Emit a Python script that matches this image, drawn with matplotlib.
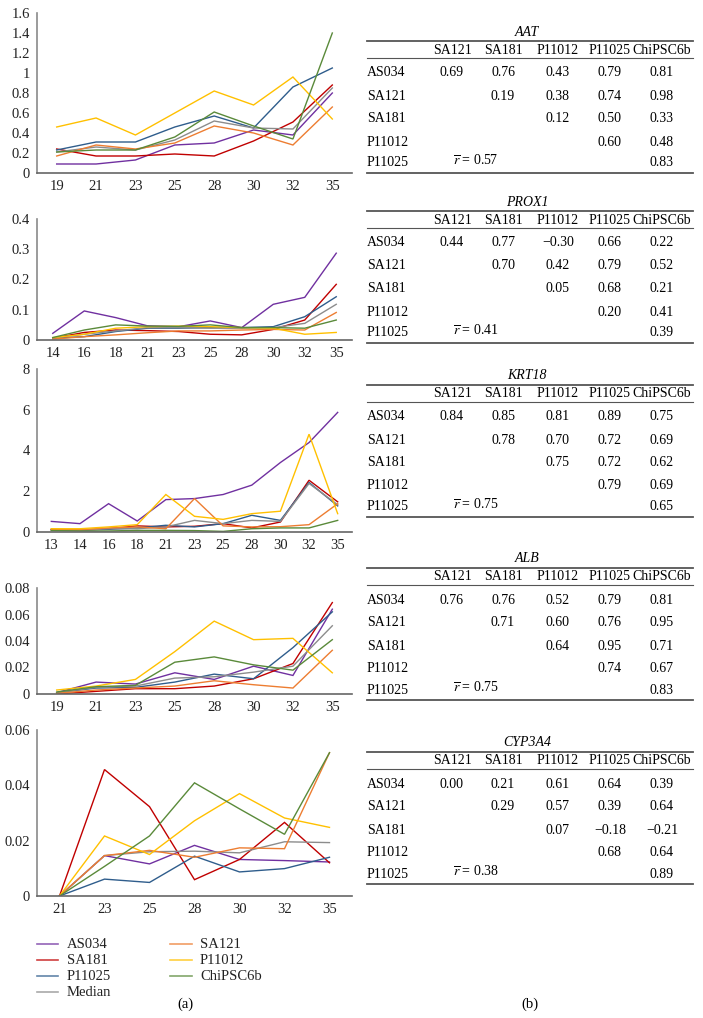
import matplotlib
matplotlib.use("Agg")
import matplotlib.pyplot as plt
from matplotlib.lines import Line2D

W, H = 703, 1018
plt.rcParams['font.family'] = ['Liberation Serif', 'DejaVu Serif']
plt.rcParams['mathtext.fontset'] = 'stix'

# ---------------- data ----------------
series_names = ["AS034", "SA181", "P11025", "Median", "SA121", "P11012", "ChiPSC6b"]
series_colors = ["#7030A0", "#C00000", "#2F5D8C", "#8C8C8C", "#ED7D31", "#FFC000", "#5A8A3A"]

aat_days = ["19", "21", "23", "25", "28", "30", "32", "35"]
aat_AS034 = [0.09, 0.09, 0.13, 0.28, 0.30, 0.43, 0.38, 0.80]
aat_SA181 = [0.24, 0.17, 0.17, 0.19, 0.17, 0.32, 0.51, 0.88]
aat_P11025 = [0.23, 0.31, 0.31, 0.46, 0.57, 0.45, 0.86, 1.05]
aat_Median = [0.21, 0.26, 0.23, 0.33, 0.52, 0.45, 0.44, 0.85]
aat_SA121 = [0.17, 0.28, 0.24, 0.30, 0.47, 0.40, 0.28, 0.66]
aat_P11012 = [0.46, 0.55, 0.38, 0.60, 0.82, 0.68, 0.96, 0.54]
aat_ChiPSC6b = [0.21, 0.23, 0.23, 0.36, 0.61, 0.47, 0.34, 1.40]
aat_yticks = [0, 0.2, 0.4, 0.6, 0.8, 1.0, 1.2, 1.4, 1.6]
aat_ylabels = ["0", "0.2", "0.4", "0.6", "0.8", "1", "1.2", "1.4", "1.6"]

prox1_days = ["14", "16", "18", "21", "23", "25", "28", "30", "32", "35"]
prox1_AS034 = [0.022, 0.096, 0.074, 0.047, 0.044, 0.063, 0.041, 0.118, 0.141, 0.287]
prox1_SA181 = [0.006, 0.025, 0.033, 0.031, 0.028, 0.019, 0.017, 0.035, 0.066, 0.184]
prox1_P11025 = [0.006, 0.011, 0.028, 0.039, 0.039, 0.041, 0.041, 0.044, 0.077, 0.143]
prox1_Median = [0.006, 0.019, 0.030, 0.041, 0.041, 0.039, 0.039, 0.041, 0.055, 0.118]
prox1_SA121 = [0.003, 0.011, 0.017, 0.024, 0.030, 0.030, 0.033, 0.035, 0.033, 0.091]
prox1_P11012 = [0.008, 0.019, 0.039, 0.044, 0.046, 0.044, 0.041, 0.039, 0.019, 0.025]
prox1_ChiPSC6b = [0.008, 0.033, 0.050, 0.046, 0.045, 0.050, 0.041, 0.041, 0.039, 0.066]
prox1_yticks = [0, 0.1, 0.2, 0.3, 0.4]
prox1_ylabels = ["0", "0.1", "0.2", "0.3", "0.4"]

krt18_days = ["13", "14", "16", "18", "21", "23", "25", "28", "30", "32", "35"]
krt18_AS034 = [0.52, 0.41, 1.39, 0.54, 1.59, 1.64, 1.84, 2.30, 3.41, 4.39, 5.87]
krt18_SA181 = [0.11, 0.09, 0.16, 0.30, 0.25, 0.28, 0.41, 0.20, 0.49, 2.54, 1.48]
krt18_P11025 = [0.11, 0.09, 0.13, 0.20, 0.33, 0.25, 0.41, 0.82, 0.57, 2.43, 1.28]
krt18_Median = [0.13, 0.09, 0.16, 0.16, 0.25, 0.57, 0.41, 0.57, 0.52, 2.38, 1.34]
krt18_SA121 = [0.13, 0.11, 0.20, 0.25, 0.16, 1.64, 0.30, 0.25, 0.26, 0.36, 1.39]
krt18_P11012 = [0.16, 0.16, 0.25, 0.36, 1.84, 0.77, 0.62, 0.90, 1.02, 4.80, 0.90]
krt18_ChiPSC6b = [0.07, 0.05, 0.05, 0.08, 0.08, 0.07, 0.03, 0.16, 0.20, 0.20, 0.57]
krt18_yticks = [0, 2, 4, 6, 8]
krt18_ylabels = ["0", "2", "4", "6", "8"]

alb_days = ["19", "21", "23", "25", "28", "30", "32", "35"]
alb_AS034 = [0.001, 0.009, 0.0075, 0.016, 0.011, 0.021, 0.014, 0.064]
alb_SA181 = [0.0, 0.002, 0.004, 0.004, 0.006, 0.0115, 0.023, 0.069]
alb_P11025 = [0.001, 0.0045, 0.005, 0.009, 0.015, 0.0115, 0.035, 0.062]
alb_Median = [0.001, 0.005, 0.006, 0.012, 0.013, 0.0165, 0.021, 0.0515]
alb_SA121 = [0.0005, 0.003, 0.0045, 0.006, 0.010, 0.007, 0.0045, 0.033]
alb_P11012 = [0.003, 0.006, 0.011, 0.032, 0.055, 0.041, 0.042, 0.016]
alb_ChiPSC6b = [0.0015, 0.0055, 0.0065, 0.024, 0.028, 0.022, 0.018, 0.041]
alb_yticks = [0, 0.02, 0.04, 0.06, 0.08]
alb_ylabels = ["0", "0.02", "0.04", "0.06", "0.08"]

cyp_days = ["21", "23", "25", "28", "30", "32", "35"]
cyp_AS034 = [0.0, 0.0146, 0.0116, 0.0183, 0.0132, 0.0128, 0.0123]
cyp_SA181 = [0.0, 0.0457, 0.0323, 0.0059, 0.0132, 0.0266, 0.0120]
cyp_P11025 = [0.0, 0.0061, 0.0049, 0.0144, 0.0087, 0.0099, 0.0140]
cyp_Median = [0.0, 0.0146, 0.0160, 0.0162, 0.0156, 0.0196, 0.0193]
cyp_SA121 = [0.0, 0.0146, 0.0165, 0.0140, 0.0174, 0.0171, 0.0518]
cyp_P11012 = [0.0, 0.0217, 0.0150, 0.0272, 0.0370, 0.0282, 0.0248]
cyp_ChiPSC6b = [0.0, 0.0107, 0.0217, 0.0409, 0.0315, 0.0223, 0.0518]
cyp_yticks = [0, 0.02, 0.04, 0.06]
cyp_ylabels = ["0", "0.02", "0.04", "0.06"]

# correlation tables
table_rows = ["AS034", "SA121", "SA181", "P11012", "P11025"]
table_cols = ["SA121", "SA181", "P11012", "P11025", "ChiPSC6b"]
gene_names = ["AAT", "PROX1", "KRT18", "ALB", "CYP3A4"]
aat_corr = [["0.69", "0.76", "0.43", "0.79", "0.81"], ["0.19", "0.38", "0.74", "0.98"],
            ["0.12", "0.50", "0.33"], ["0.60", "0.48"], ["0.83"]]
prox1_corr = [["0.44", "0.77", "\u22120.30", "0.66", "0.22"], ["0.70", "0.42", "0.79", "0.52"],
              ["0.05", "0.68", "0.21"], ["0.20", "0.41"], ["0.39"]]
krt18_corr = [["0.84", "0.85", "0.81", "0.89", "0.75"], ["0.78", "0.70", "0.72", "0.69"],
              ["0.75", "0.72", "0.62"], ["0.79", "0.69"], ["0.65"]]
alb_corr = [["0.76", "0.76", "0.52", "0.79", "0.81"], ["0.71", "0.60", "0.76", "0.95"],
            ["0.64", "0.95", "0.71"], ["0.74", "0.67"], ["0.83"]]
cyp_corr = [["0.00", "0.21", "0.61", "0.64", "0.39"], ["0.29", "0.57", "0.39", "0.64"],
            ["0.07", "\u22120.18", "\u22120.21"], ["0.68", "0.64"], ["0.89"]]
mean_r = ["0.57", "0.41", "0.75", "0.75", "0.38"]

# ---------------- layout ----------------
fig = plt.figure(figsize=(W / 100, H / 100), dpi=100)

def fx(px):
    return px / W

def fy(py):
    return 1 - py / H

panels = [
    (aat_days, [aat_AS034, aat_SA181, aat_P11025, aat_Median, aat_SA121, aat_P11012, aat_ChiPSC6b],
     aat_yticks, aat_ylabels, 13, 173),
    (prox1_days, [prox1_AS034, prox1_SA181, prox1_P11025, prox1_Median, prox1_SA121, prox1_P11012, prox1_ChiPSC6b],
     prox1_yticks, prox1_ylabels, 219, 340),
    (krt18_days, [krt18_AS034, krt18_SA181, krt18_P11025, krt18_Median, krt18_SA121, krt18_P11012, krt18_ChiPSC6b],
     krt18_yticks, krt18_ylabels, 369, 532),
    (alb_days, [alb_AS034, alb_SA181, alb_P11025, alb_Median, alb_SA121, alb_P11012, alb_ChiPSC6b],
     alb_yticks, alb_ylabels, 588, 694),
    (cyp_days, [cyp_AS034, cyp_SA181, cyp_P11025, cyp_Median, cyp_SA121, cyp_P11012, cyp_ChiPSC6b],
     cyp_yticks, cyp_ylabels, 730, 896),
]

AX_L, AX_R = 37, 352
for days, ser, yt, yl, top, bot in panels:
    ax = fig.add_axes([fx(AX_L), fy(bot), (AX_R - AX_L) / W, (bot - top) / H])
    xs = list(range(len(days)))
    for vals, c in zip(ser, series_colors):
        ax.plot(xs, vals, color=c, lw=1.0, solid_joinstyle='miter')
    ax.set_xlim(-0.5, len(days) - 0.5)
    ax.set_ylim(yt[0], yt[-1])
    ax.set_xticks(xs)
    ax.set_xticklabels(days)
    ax.set_yticks(yt)
    ax.set_yticklabels(yl)
    ax.tick_params(length=0, labelsize=10.5, pad=5, colors='#222222')
    for s in ("top", "right"):
        ax.spines[s].set_visible(False)
    ax.spines["left"].set_color("#8a8a8a")
    ax.spines["bottom"].set_color("#666666")
    ax.spines["left"].set_linewidth(1.2)
    ax.spines["bottom"].set_linewidth(1.2)
    ax.patch.set_alpha(0)

# legend (manual)
leg_rows = [944, 960, 976, 992]
leg_cols = [(37, 58, 67), (170, 192, 200)]
for i, (name, c) in enumerate(zip(series_names, series_colors)):
    col = 0 if i < 4 else 1
    row = i if i < 4 else i - 4
    x0, x1, xt = leg_cols[col]
    y = leg_rows[row]
    fig.add_artist(Line2D([fx(x0), fx(x1)], [fy(y), fy(y)], color=c, lw=1.2, alpha=0.75))
    fig.text(fx(xt), fy(y), name, fontsize=10.5, va='center', ha='left', color='#222222')

fig.text(fx(185), fy(1004), "(a)", fontsize=10.5, ha='center', va='center')
fig.text(fx(530), fy(1004), "(b)", fontsize=10.5, ha='center', va='center')

# tables
table_bottoms = [173, 343, 517, 700, 884]
all_corr = [aat_corr, prox1_corr, krt18_corr, alb_corr, cyp_corr]
col_x = [452, 503, 558, 610, 662]
TL, TR = 367, 693
for gname, corr, rbar, B in zip(gene_names, all_corr, mean_r, table_bottoms):
    fig.text(fx(527), fy(B - 141), gname, fontsize=10, style='italic', ha='center', va='center')
    fig.add_artist(Line2D([fx(TL), fx(TR)], [fy(B - 132)] * 2, color='#555555', lw=1.3))
    fig.add_artist(Line2D([fx(TL), fx(TR)], [fy(B - 115)] * 2, color='#555555', lw=0.8))
    fig.add_artist(Line2D([fx(TL), fx(TR)], [fy(B)] * 2, color='#555555', lw=1.3))
    for cx, cname in zip(col_x, table_cols):
        fig.text(fx(cx), fy(B - 123), cname, fontsize=10, ha='center', va='center')
    row_y = [B - 100, B - 77, B - 54, B - 31, B - 10]
    for r, (rname, vals) in enumerate(zip(table_rows, corr)):
        fig.text(fx(TL), fy(row_y[r]), rname, fontsize=10, ha='left', va='center')
        for k, v in enumerate(vals):
            fig.text(fx(col_x[r + k]), fy(row_y[r]), v, fontsize=10, ha='center', va='center')
    fig.text(fx(453), fy(B - 13), r"$\overline{r}$ = " + rbar, fontsize=10, ha='left', va='center')

fig.savefig("out.png", dpi=100)
